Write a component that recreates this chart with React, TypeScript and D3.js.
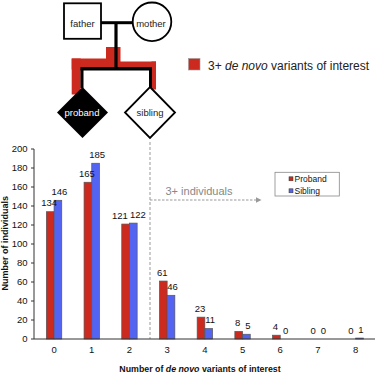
import React from "react";
import * as d3 from "d3";

const categories = ["0", "1", "2", "3", "4", "5", "6", "7", "8"];
const probandValues = [134, 165, 121, 61, 23, 8, 4, 0, 0];
const siblingValues = [146, 185, 122, 46, 11, 5, 0, 0, 1];
const seriesNames = ["Proband", "Sibling"];
const yTicks = [0, 20, 40, 60, 80, 100, 120, 140, 160, 180, 200];

const RED = "#cc2a1f";
const BLUE = "#5364f2";
const FONT = "'Liberation Sans', Arial, sans-serif";

export default function App() {
  const x = d3.scaleBand<string>().domain(categories).range([35.2, 374.5]).padding(0);
  const xs = d3.scaleBand<string>().domain(seriesNames).range([-7.7, 7.7]).padding(0);
  const y = d3.scaleLinear().domain([0, 200]).range([339, 149]);
  const series = [probandValues, siblingValues];
  const colors = [RED, BLUE];
  const center = (c: string) => (x(c) as number) + x.bandwidth() / 2;

  // label positions with simple collision nudging
  const labels: { x: number; y: number; t: string }[] = [];
  categories.forEach((c, i) => {
    const pv = probandValues[i];
    const sv = siblingValues[i];
    const px = center(c) + (xs("Proband") as number) + xs.bandwidth() / 2;
    const sx = center(c) + (xs("Sibling") as number) + xs.bandwidth() / 2;
    const pw = String(pv).length * 5.3;
    const sw = String(sv).length * 5.3;
    let plx = px - 1;
    let slx = sx + 1.5;
    const py = y(pv) - 5.5;
    const sy = y(sv) - 5.5;
    const need = pw / 2 + sw / 2 + 2;
    if (Math.abs(py - sy) < 9 && slx - plx < need) {
      const d = need - (slx - plx);
      plx -= d * 0.6;
      slx += d * 0.4;
    }
    labels.push({ x: plx, y: py, t: String(pv) });
    labels.push({ x: slx, y: sy, t: String(sv) });
  });

  return (
    <svg
      width={375}
      height={375}
      style={{ position: "absolute", left: 0, top: 0, background: "#fff" }}
      fontFamily={FONT}
    >
      {/* Pedigree */}
      <g>
        {/* red highlight */}
        <rect x={106} y={47} width={14.5} height={16} fill={RED} />
        <rect x={71.7} y={58.5} width={43} height={11} fill={RED} />
        <rect x={113} y={61.5} width={43} height={5.5} fill={RED} />
        <rect x={71.7} y={58.5} width={9} height={36} fill={RED} />
        <rect x={151.5} y={61.5} width={4.5} height={28} fill={RED} />
        {/* black lines */}
        <line x1={101} y1={22.7} x2={132} y2={22.7} stroke="#000" strokeWidth={3} />
        <line x1={116} y1={22.7} x2={116} y2={68.7} stroke="#000" strokeWidth={3.2} />
        <line x1={80.5} y1={68.7} x2={152} y2={68.7} stroke="#000" strokeWidth={3.5} />
        <line x1={82} y1={68.7} x2={82} y2={88} stroke="#000" strokeWidth={3} />
        <line x1={150.5} y1={68.7} x2={150.5} y2={88} stroke="#000" strokeWidth={3} />
        {/* father */}
        <rect x={64} y={3.3} width={37} height={35.5} fill="#fff" stroke="#000" strokeWidth={1.8} />
        <text x={82.5} y={26.5} fontSize={9.5} textAnchor="middle" fill="#222">father</text>
        {/* mother */}
        <circle cx={152} cy={21.8} r={19.3} fill="#fff" stroke="#000" strokeWidth={1.8} />
        <text x={151} y={26.5} fontSize={9.5} textAnchor="middle" fill="#222">mother</text>
        {/* proband */}
        <path d="M82.5,87 L108,112.5 L82.5,138 L57,112.5 Z" fill="#000" />
        <text x={82} y={116} fontSize={9.5} textAnchor="middle" fill="#fff">proband</text>
        {/* sibling */}
        <path d="M150,87 L175,112.5 L150,138 L125,112.5 Z" fill="#fff" stroke="#000" strokeWidth={1.8} />
        <text x={150} y={116} fontSize={9.5} textAnchor="middle" fill="#222">sibling</text>
        {/* legend */}
        <rect x={188.5} y={58.5} width={11.5} height={11.5} fill={RED} stroke="#999" strokeWidth={0.6} />
        <text x={208} y={70} fontSize={12} fill="#222">
          3+ <tspan fontStyle="italic">de novo</tspan> variants of interest
        </text>
      </g>

      {/* Chart annotations */}
      <line x1={150} y1={142} x2={150} y2={339} stroke="#999" strokeWidth={1} strokeDasharray="3,2" />
      <line x1={150} y1={200} x2={257} y2={200} stroke="#999" strokeWidth={1} strokeDasharray="2.5,1.5" />
      <path d="M256,197.3 L261.5,200 L256,202.7 Z" fill="#999" />
      <text x={165.5} y={195} fontSize={11} fill="#888">3+ individuals</text>

      {/* Bars */}
      {series.map((vals, si) => (
        <g key={si}>
          {vals.map((v, i) => (
            <rect
              key={i}
              x={center(categories[i]) + (xs(seriesNames[si]) as number)}
              y={y(v)}
              width={xs.bandwidth()}
              height={y(0) - y(v)}
              fill={colors[si]}
              stroke="#555"
              strokeWidth={0.7}
            />
          ))}
        </g>
      ))}

      {/* Data labels */}
      {labels.map((l, i) => (
        <text key={i} x={l.x} y={l.y} fontSize={9.5} textAnchor="middle" fill="#111">
          {l.t}
        </text>
      ))}

      {/* Axes */}
      <line x1={34} y1={149} x2={34} y2={339} stroke="#333" strokeWidth={1} />
      <line x1={34} y1={339} x2={375} y2={339} stroke="#333" strokeWidth={1} />
      {yTicks.map((t) => (
        <g key={t}>
          <line x1={31} x2={34} y1={y(t)} y2={y(t)} stroke="#333" strokeWidth={1} />
          <text x={27.5} y={y(t) + 3.3} fontSize={9.5} textAnchor="end" fill="#111">
            {t}
          </text>
        </g>
      ))}
      {categories.map((c) => (
        <text key={c} x={center(c)} y={353.3} fontSize={9.5} textAnchor="middle" fill="#111">
          {c}
        </text>
      ))}
      <text x={200} y={372} fontSize={8.8} fontWeight="bold" textAnchor="middle" fill="#111">
        Number of <tspan fontStyle="italic">de novo</tspan> variants of interest
      </text>
      <text
        transform="translate(8.3,243.3) rotate(-90)"
        fontSize={9}
        fontWeight="bold"
        textAnchor="middle"
        fill="#111"
      >
        Number of individuals
      </text>

      {/* Legend */}
      <rect x={275} y={172.3} width={64.3} height={23.7} fill="#fff" stroke="#888" strokeWidth={0.8} />
      {seriesNames.map((n, i) => (
        <g key={n}>
          <rect x={289} y={176.8 + i * 12} width={4} height={4} fill={colors[i]} stroke="#333" strokeWidth={0.5} />
          <text x={294.5} y={181.8 + i * 11.7} fontSize={8.5} fill="#111">
            {n}
          </text>
        </g>
      ))}
    </svg>
  );
}
